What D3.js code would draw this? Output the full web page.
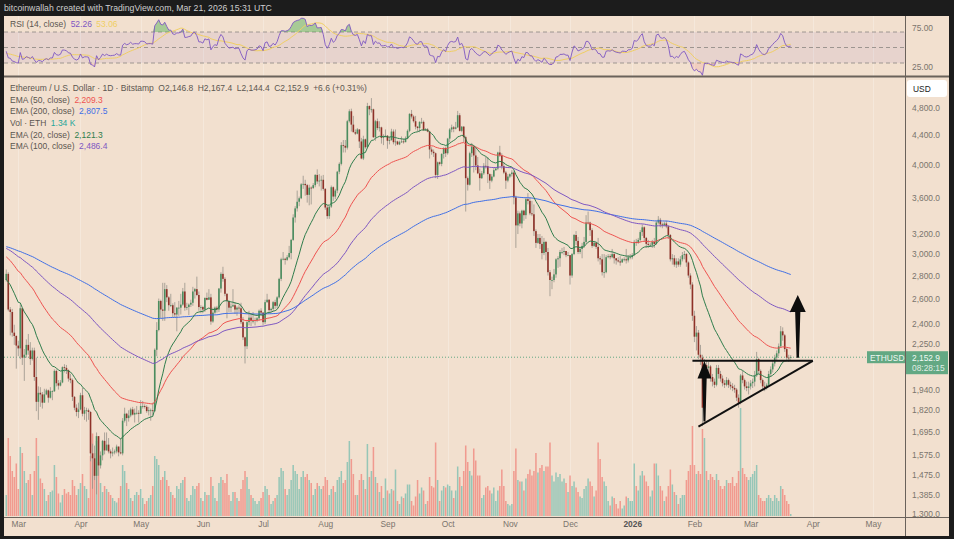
<!DOCTYPE html>
<html>
<head>
<meta charset="utf-8">
<script src="https://cdn.jsdelivr.net/npm/d3@7/dist/d3.min.js"></script>
<style>
html,body{margin:0;padding:0;background:#1c1c1c;overflow:hidden}
svg{display:block}
text{font-family:"Liberation Sans",Arial,sans-serif}
</style>
</head>
<body>
<svg id="chart" width="954" height="539"></svg>
<script>
// ================= DATA =================
const startDate = "2025-02-23";
const firstOpen = 2760;
const closes = [
2815,2510,2490,2330,2305,2235,
2215,2520,2150,2170,2240,2200,2140,2200,2020,1865,1920,1910,1860,1910,1935,1890,1930,1930,2060,1980,1965,1985,2085,2080,2065,2010,2000,1895,1830,1805,1820,
1905,1795,1815,1815,1805,1580,1555,1470,1670,1520,1570,1645,1595,1625,1590,1580,1585,1590,1615,1585,1580,1755,1795,1770,1785,1820,1790,1800,1800,1795,
1840,1840,1835,1810,1815,1815,1810,2205,2350,2580,2510,2500,2680,2610,2545,2545,2480,2470,2525,2525,2550,2660,2525,2530,2550,2565,2660,2680,2630,2530,2530,
2510,2605,2590,2610,2415,2485,2525,2510,2685,2815,2770,2640,2580,2525,2535,2545,2510,2525,2520,2410,2295,2230,2410,2445,2420,2420,2425,2440,2500,2485,
2410,2570,2590,2505,2515,2570,2540,2610,2770,2950,2955,2945,2970,3010,3140,3375,3475,3550,3590,3755,3760,3745,3630,3715,3710,3745,3870,3790,3800,3810,3700,
3485,3390,3495,3720,3610,3680,3910,4010,4260,4250,4225,4600,4750,4550,4440,4420,4480,4310,4080,4340,4230,4830,4780,4780,4370,4600,4500,4510,4360,4370,4390,
4320,4330,4450,4300,4310,4270,4300,4310,4300,4350,4460,4710,4670,4600,4520,4500,4590,4590,4470,4480,4450,4200,4170,4150,3870,4030,4010,4140,4220,4150,
4350,4480,4510,4490,4510,4690,4460,4520,4370,3830,3750,4150,4240,4120,3990,3890,3830,3890,3985,3980,3880,3800,3850,3930,3950,4160,4120,3980,3900,3800,3850,
3880,3900,3600,3290,3420,3310,3450,3400,3580,3560,3420,3410,3230,3110,3160,3100,3010,3120,3020,2830,2760,2760,2810,2950,2960,3020,3020,3030,2990,2990,
2800,3000,3190,3130,3020,3050,3080,3120,3320,3320,3240,3080,3110,3070,2960,2950,2830,2830,2970,2980,2970,3000,2960,2940,2930,2920,2950,2950,2940,2970,2970,
2990,3120,3110,3140,3220,3270,3160,3100,3090,3090,3120,3100,3320,3350,3300,3290,3310,3280,3190,2950,2960,2900,2930,2900,2950,2990,3000,2920,2800,2720,2460,
2300,2330,2170,2150,1830,2100,2080,2090,2020,1990,1970,2080,2040,2010,1980,1970,2000,1970,1960,1950,1940,1890,1860,2030,2000,1960,1950,1960,
1980,1990,2030,2140,2060,2000,1960,1950,1970,2040,2070,2110,2150,2180,2230,2340,2310,2210,2150,2146.8,2152.9
];
const highs = [
2855,2830,2530,2515,2390,2310,
2270,2550,2520,2210,2280,2320,2260,2220,2220,2150,1960,1955,1925,1945,1945,1940,1955,1935,2070,2070,2000,2000,2090,2105,2100,2070,2040,2010,1900,1850,1860,
1920,1950,1835,1830,1825,1810,1630,1620,1690,1670,1590,1650,1690,1690,1660,1600,1610,1600,1625,1615,1660,1770,1830,1800,1815,1830,1835,1825,1840,1815,
1875,1870,1850,1845,1835,1825,1860,2215,2410,2600,2590,2735,2735,2715,2620,2640,2560,2570,2530,2580,2640,2690,2735,2565,2560,2590,2700,2690,2790,2660,2545,
2540,2610,2650,2680,2640,2525,2535,2540,2690,2830,2880,2785,2645,2585,2560,2680,2570,2535,2545,2565,2450,2300,2425,2500,2480,2490,2445,2450,2510,2520,
2490,2590,2640,2595,2525,2580,2590,2620,2780,2965,3020,2965,2990,3080,3150,3410,3500,3680,3610,3770,3860,3810,3760,3750,3730,3770,3880,3940,3880,3860,3870,
3710,3510,3500,3740,3730,3700,3920,4030,4300,4330,4330,4620,4780,4790,4680,4480,4500,4480,4360,4390,4350,4880,4840,4955,4790,4620,4640,4600,4520,4410,4480,
4400,4380,4490,4480,4480,4320,4320,4380,4350,4380,4480,4720,4770,4690,4680,4530,4600,4650,4610,4500,4500,4460,4230,4200,4160,4040,4040,4150,4230,4240,
4360,4500,4550,4530,4590,4755,4720,4530,4530,4390,3850,4170,4290,4250,4220,4100,3950,3920,4020,4100,4100,3890,3880,3960,3960,4170,4250,4150,4030,3920,3880,
3890,3930,3920,3620,3450,3440,3460,3460,3600,3650,3600,3560,3520,3250,3200,3200,3180,3160,3130,3060,2850,2790,2860,2960,2980,3040,3060,3070,3030,3020,
2990,3010,3200,3230,3170,3070,3110,3170,3400,3440,3330,3260,3130,3120,3160,2980,3000,3000,2990,3000,3000,3050,3010,2960,2970,2980,2960,2970,3050,2990,3000,
3010,3140,3150,3160,3240,3300,3280,3170,3140,3110,3140,3160,3340,3390,3370,3320,3330,3340,3290,3200,3000,2990,2960,2960,2980,3020,3030,3010,2930,2820,2740,
2500,2380,2350,2240,2170,2140,2130,2120,2100,2040,2010,2100,2100,2060,2030,2000,2020,2010,1990,1980,1970,1950,1910,2040,2060,2010,1990,1990,
2000,2010,2060,2190,2150,2070,2010,1990,1980,2060,2090,2130,2170,2200,2250,2380,2370,2320,2220,2170,2167.4
];
const lows = [
2745,2495,2310,2300,2240,2075,
2160,2140,2100,1995,2150,2170,2100,2130,1995,1810,1760,1835,1825,1860,1905,1860,1885,1875,1925,1960,1940,1960,1980,2050,2040,1990,1980,1870,1815,1780,1770,
1815,1780,1760,1750,1760,1540,1410,1450,1385,1470,1505,1545,1575,1605,1580,1555,1565,1575,1580,1565,1575,1570,1745,1725,1750,1775,1785,1745,1790,1745,
1795,1825,1825,1800,1785,1755,1785,1805,2160,2340,2440,2420,2420,2570,2500,2530,2450,2450,2340,2460,2470,2540,2500,2505,2465,2530,2540,2600,2620,2500,2480,
2480,2490,2585,2590,2390,2405,2475,2485,2490,2650,2745,2620,2440,2490,2490,2530,2475,2460,2490,2395,2275,2110,2210,2385,2380,2400,2385,2410,2420,2460,
2385,2395,2565,2485,2490,2500,2515,2520,2600,2750,2940,2900,2935,2960,2950,3130,3320,3440,3500,3580,3700,3620,3540,3510,3520,3700,3720,3760,3730,3680,3680,
3460,3360,3360,3480,3560,3580,3650,3880,3990,4160,4160,4200,4580,4450,4440,4400,4410,4220,4070,4060,4210,4220,4690,4730,4360,4320,4470,4450,4280,4260,4370,
4210,4270,4320,4270,4250,4260,4260,4290,4280,4300,4340,4440,4640,4580,4480,4450,4440,4560,4460,4460,4440,4080,4130,4100,3830,3820,3990,3980,4080,4100,
4130,4300,4440,4440,4480,4500,4450,4440,4300,3440,3680,3740,4100,3900,3930,3880,3680,3820,3870,3950,3770,3700,3780,3840,3920,3930,4100,3940,3880,3700,3780,
3830,3850,3520,3060,3200,3280,3260,3340,3360,3520,3400,3390,3180,3060,3100,3050,2950,2990,2940,2800,2620,2680,2740,2780,2870,2880,3000,2990,2970,2980,
2720,2780,2990,3090,3000,3000,2960,3060,3100,3300,3180,3060,3070,3050,2930,2900,2800,2780,2820,2960,2950,2960,2910,2900,2920,2890,2920,2930,2910,2920,2950,
2950,2980,3080,3100,3120,3180,3120,3060,3060,3070,3060,3060,3090,3300,3270,3260,3280,3260,3150,2930,2900,2880,2870,2880,2880,2930,2950,2880,2780,2680,2420,
2260,2200,2140,2100,1725,1810,2020,2050,1990,1960,1950,1960,2010,1990,1960,1950,1960,1950,1940,1930,1920,1870,1830,1850,1980,1940,1930,1910,
1940,1950,1960,2020,2040,1980,1940,1930,1940,1960,2020,2050,2090,2130,2160,2220,2270,2190,2130,2120,2144.4
];
// daily volume, thousand ETH
const volumes = [
14,52,40,30,26,35,
18,46,42,30,22,24,28,14,30,52,40,25,22,18,10,14,16,17,34,26,15,9,14,18,15,16,14,24,20,14,18,
22,28,20,18,12,40,55,42,50,36,22,16,20,18,16,14,12,10,9,12,20,34,30,22,18,12,10,14,16,14,
18,12,8,10,12,14,20,40,38,34,24,26,30,24,20,16,14,12,20,18,22,24,26,12,10,14,20,18,20,22,12,
10,16,14,14,26,20,12,10,22,26,24,22,28,14,10,16,16,12,10,18,24,30,26,18,14,12,10,8,10,12,
16,20,18,14,8,10,12,14,26,32,30,18,14,18,24,34,30,28,18,26,30,26,28,24,22,14,18,22,20,18,20,
26,24,14,18,20,16,24,26,30,22,24,36,50,38,28,14,14,24,28,24,18,48,26,30,46,26,22,16,20,12,25,
17,15,18,17,31,10,8,13,12,15,21,21,10,7,13,24,15,19,17,8,10,26,20,19,49,24,10,17,20,19,
21,20,17,12,17,33,26,20,30,47,36,30,27,45,37,27,27,12,14,19,20,17,15,19,10,17,20,31,20,10,8,
7,8,30,45,24,23,23,17,25,28,31,27,30,42,29,32,34,30,33,33,49,27,23,29,26,28,23,25,22,16,
27,20,23,19,16,13,12,18,20,25,23,20,13,17,49,38,26,23,20,10,7,13,12,8,5,10,5,7,13,12,10,
10,35,20,17,27,30,27,23,20,13,17,35,35,27,20,17,10,13,20,31,21,16,14,8,12,14,14,24,30,34,60,
34,28,30,28,58,52,30,24,28,26,24,28,24,20,18,20,24,22,22,26,20,22,30,72,32,28,26,24,
26,28,30,34,14,12,10,10,12,14,12,10,14,12,10,20,18,14,10,8,1.34
];
const monthTicks = ["2025-03-01","2025-04-01","2025-05-01","2025-06-01","2025-07-01","2025-08-01","2025-09-01","2025-10-01","2025-11-01","2025-12-01","2026-01-01","2026-02-01","2026-03-01","2026-04-01","2026-05-01"];
const monthLabels = ["Mar","Apr","May","Jun","Jul","Aug","Sep","Oct","Nov","Dec","2026","Feb","Mar","Apr","May"];
const priceTicks = [4800,4400,4000,3600,3200,3000,2800,2600,2400,2250,1940,1820,1695,1575,1475,1385,1300];
const rsiTicks = [75,25];
const rsiLevels = [70,50,30];
const emaPeriods = [50,200,20,100];
const emaSeeds = [2980,3075,2760,3060];
const rsiSeed = {gain:45, loss:60, value:42};
const lastPrice = 2152.9;
const lastTimer = "08:28:15";
const headerText = "bitcoinwallah created with TradingView.com, Mar 21, 2026 15:31 UTC";
const symbolText = "Ethereum / U.S. Dollar · 1D · Bitstamp";
const ohlcText = ["O2,146.8","H2,167.4","L2,144.4","C2,152.9","+6.6 (+0.31%)"];
const legendRows = [["EMA (50, close)","2,209.3"],["EMA (200, close)","2,807.5"],["Vol · ETH","1.34 K"],["EMA (20, close)","2,121.3"],["EMA (100, close)","2,486.4"]];
const rsiLegend = ["RSI (14, close)","52.26","53.06"];
// chart drawings (time / price anchors)
const trendLines = [
  {t0:"2026-01-31",p0:2128,t1:"2026-04-01",p1:2128},
  {t0:"2026-02-03",p0:1722,t1:"2026-04-01",p1:2128}
];
const arrowMarks = [
  {t:"2026-02-06",base:1750,neck:2010,tip:2125},
  {t:"2026-03-24T12:00:00Z",base:2150,neck:2490,tip:2630}
];

// ================= STYLE =================
const C = {
  frame:"#1c1c1c", bg:"#f2e0cf", text:"#5b5650", axisText:"#7a746d", sep:"#6a625b",
  grid:"rgba(255,255,255,0.25)",
  up:"#4b8d5f", down:"#8e3128", wick:"#98938a",
  volUp:"rgba(38,166,154,0.45)", volDown:"rgba(239,83,80,0.5)",
  ema:{50:"#ef5350",200:"#3f6fe6",20:"#2f7d4c",100:"#7e57c2"},
  legendVal:["#ef5350","#3f6fe6","#26a69a","#2f7d4c","#7e57c2"],
  rsi:"#7e57c2", rsiMA:"#f0cf63", band:"rgba(126,87,194,0.09)",
  last:"#63a883"
};
const PL=4, PR=905, RT=16, RB=76, MT=77, MB=517, AR=949, BOT=536;

// ================= COMPUTE =================
const t0 = new Date(startDate+"T00:00:00Z");
const dates = closes.map((c,i)=>d3.utcDay.offset(t0,i));
const opens = closes.map((c,i)=> i===0 ? firstOpen : closes[i-1]);
const bars = closes.map((c,i)=>({
  d:dates[i], o:opens[i], c:c,
  h:Math.max(highs[i],opens[i],c), l:Math.min(lows[i],opens[i],c), v:volumes[i]
}));
function ema(period, seed){ const a=2/(period+1); let e=seed; return closes.map(c=>(e=a*c+(1-a)*e)); }
const emas = emaPeriods.map((p,k)=>({p, vals:ema(p,emaSeeds[k])}));
let ag=rsiSeed.gain, al=rsiSeed.loss;
const rsi = closes.map((c,i)=>{
  const ch = c-opens[i];
  ag=(ag*13+Math.max(ch,0))/14; al=(al*13+Math.max(-ch,0))/14;
  return 100-100/(1+ag/al);
});
const rsiMA = rsi.map((r,i)=>{ const w=[]; for(let k=i-13;k<=i;k++) w.push(k<0?rsiSeed.value:rsi[k]); return d3.mean(w); });

// ================= SCALES =================
const x = d3.scaleUtc().domain([new Date("2025-03-01T00:00:00Z"), new Date("2026-05-01T00:00:00Z")]).range([18.3,873]);
const y = d3.scaleLog().domain([1300,4800]).range([514,108]);
const yR = d3.scaleLinear().domain([30,70]).range([63,32]);
const yV = d3.scaleLinear().domain([0,60]).range([MB-1, MB-91]);
const pd = s => new Date(s.length>10 ? s : s+"T00:00:00Z");

// ================= DRAW =================
const svg = d3.select("#chart");
svg.append("rect").attr("width",954).attr("height",539).attr("fill",C.frame);
svg.append("rect").attr("x",PL).attr("y",RT).attr("width",AR-PL).attr("height",BOT-RT).attr("fill",C.bg);

const defs = svg.append("defs");
defs.append("clipPath").attr("id","clipMain").append("rect").attr("x",PL).attr("y",MT).attr("width",PR-PL).attr("height",MB-MT);
defs.append("clipPath").attr("id","clipRsi").append("rect").attr("x",PL).attr("y",RT).attr("width",PR-PL).attr("height",RB-RT);

function fit(str, target, weight){
  const t=svg.append("text").attr("font-size",10).attr("font-weight",weight||400).text(str);
  const w=t.node().getComputedTextLength(); t.remove(); return 10*target/w;
}

// header
svg.append("text").attr("x",4).attr("y",11).attr("fill","#cfcfcf")
  .attr("font-size",fit(headerText,268)).text(headerText);

// grid
const gridG = svg.append("g");
monthTicks.forEach(s=>{
  const gx = Math.round(x(pd(s)))+0.5;
  gridG.append("line").attr("x1",gx).attr("x2",gx).attr("y1",RT).attr("y2",RB).attr("stroke",C.grid);
  gridG.append("line").attr("x1",gx).attr("x2",gx).attr("y1",MT+1).attr("y2",MB).attr("stroke",C.grid);
});

// ---------- RSI pane ----------
const rsiG = svg.append("g").attr("clip-path","url(#clipRsi)");
rsiG.append("rect").attr("x",PL).attr("width",PR-PL).attr("y",yR(70)).attr("height",yR(30)-yR(70)).attr("fill",C.band);
rsiLevels.forEach(l=>{
  rsiG.append("line").attr("x1",PL).attr("x2",PR).attr("y1",yR(l)).attr("y2",yR(l))
    .attr("stroke","#8a8580").attr("stroke-dasharray","4,3").attr("stroke-width",0.8);
});
const xi = (d,i)=>x(dates[i]);
rsiG.append("path").datum(rsi).attr("fill","rgba(76,175,80,0.45)")
  .attr("d",d3.area().x(xi).y0(yR(70)).y1(d=>yR(Math.max(d,70))));
rsiG.append("path").datum(rsi).attr("fill","rgba(239,83,80,0.12)")
  .attr("d",d3.area().x(xi).y0(yR(30)).y1(d=>yR(Math.min(d,30))));
rsiG.append("path").datum(rsiMA).attr("fill","none").attr("stroke",C.rsiMA).attr("stroke-width",1)
  .attr("d",d3.line().x(xi).y(d=>yR(d)));
rsiG.append("path").datum(rsi).attr("fill","none").attr("stroke",C.rsi).attr("stroke-width",0.9)
  .attr("d",d3.line().x(xi).y(d=>yR(d)));

// ---------- Main pane ----------
const mainG = svg.append("g").attr("clip-path","url(#clipMain)");
// volume
mainG.append("g").selectAll("rect").data(bars).join("rect")
  .attr("x",d=>x(d.d)-0.75).attr("width",1.5)
  .attr("y",d=>yV(d.v)).attr("height",d=>yV(0)-yV(d.v))
  .attr("fill",d=>d.c>=d.o?C.volUp:C.volDown);
// price line
const yl = y(lastPrice);
mainG.append("line").attr("x1",PL).attr("x2",PR).attr("y1",yl).attr("y2",yl)
  .attr("stroke",C.last).attr("stroke-dasharray","1,2").attr("stroke-width",1);
// candles
const cg = mainG.append("g");
cg.selectAll("line").data(bars).join("line")
  .attr("x1",d=>x(d.d)).attr("x2",d=>x(d.d)).attr("y1",d=>y(d.h)).attr("y2",d=>y(d.l))
  .attr("stroke",C.wick).attr("stroke-width",0.8);
cg.selectAll("rect").data(bars).join("rect")
  .attr("x",d=>x(d.d)-0.8).attr("width",1.6)
  .attr("y",d=>y(Math.max(d.o,d.c)))
  .attr("height",d=>Math.max(0.8, y(Math.min(d.o,d.c))-y(Math.max(d.o,d.c))))
  .attr("fill",d=>d.c>=d.o?C.up:C.down);
// EMAs
emas.forEach(e=>{
  mainG.append("path").datum(e.vals).attr("fill","none").attr("stroke",C.ema[e.p]).attr("stroke-width",1)
    .attr("d",d3.line().x(xi).y(d=>y(d)));
});
// drawings
trendLines.forEach(t=>{
  mainG.append("line").attr("x1",x(pd(t.t0))).attr("y1",y(t.p0)).attr("x2",x(pd(t.t1))).attr("y2",y(t.p1))
    .attr("stroke","#111").attr("stroke-width",2);
});
const arrowSizes=[{head:7,shaft:2.2,tail:1},{head:8,shaft:2.6,tail:1.2}];
arrowMarks.forEach((a,k)=>{
  const ax=x(pd(a.t)), s=arrowSizes[k];
  const pts=[[ax-s.tail,y(a.base)],[ax-s.shaft,y(a.neck)],[ax-s.head,y(a.neck)],[ax,y(a.tip)],
             [ax+s.head,y(a.neck)],[ax+s.shaft,y(a.neck)],[ax+s.tail,y(a.base)]];
  mainG.append("path").attr("d","M"+pts.map(p=>p.join(",")).join("L")+"Z").attr("fill","#0d0d0d");
});

// ---------- separators ----------
svg.append("line").attr("x1",PL).attr("x2",AR).attr("y1",76.5).attr("y2",76.5).attr("stroke",C.sep).attr("stroke-width",2);
svg.append("line").attr("x1",PL).attr("x2",AR).attr("y1",MB+0.5).attr("y2",MB+0.5).attr("stroke",C.sep).attr("stroke-width",1);
svg.append("line").attr("x1",PR+0.5).attr("x2",PR+0.5).attr("y1",RT).attr("y2",BOT).attr("stroke",C.sep).attr("stroke-width",1);

// ---------- axes ----------
const axFs = fit("4,800.0",28);
const pAx = svg.append("g").attr("transform",`translate(${PR},0)`)
  .call(d3.axisRight(y).tickValues(priceTicks).tickFormat(d3.format(",.1f")).tickSize(0).tickPadding(7));
pAx.select(".domain").remove();
pAx.selectAll("text").attr("fill",C.axisText).attr("font-size",axFs).attr("font-family","Liberation Sans, Arial, sans-serif");

const rAx = svg.append("g").attr("transform",`translate(${PR},0)`)
  .call(d3.axisRight(yR).tickValues(rsiTicks).tickFormat(d3.format(".2f")).tickSize(0).tickPadding(7));
rAx.select(".domain").remove();
rAx.selectAll("text").attr("fill",C.axisText).attr("font-size",axFs).attr("font-family","Liberation Sans, Arial, sans-serif");

const tAx = svg.append("g").attr("transform",`translate(0,${MB})`)
  .call(d3.axisBottom(x).tickValues(monthTicks.map(pd)).tickFormat((d,i)=>monthLabels[i]).tickSize(0).tickPadding(4));
tAx.select(".domain").remove();
tAx.selectAll("text").attr("font-size",axFs).attr("font-family","Liberation Sans, Arial, sans-serif")
  .attr("font-weight",(d,i)=>monthLabels[i]==="2026"?700:400)
  .attr("fill",(d,i)=>monthLabels[i]==="2026"?"#555":C.axisText);

// USD box
svg.append("rect").attr("x",907).attr("y",80).attr("width",40).attr("height",17).attr("rx",3).attr("fill","#ffffff");
svg.append("text").attr("x",913).attr("y",91.5).attr("font-size",axFs).attr("fill","#222").text("USD");

// last price labels
svg.append("rect").attr("x",867).attr("y",yl-6).attr("width",PR-867).attr("height",12).attr("fill",C.last);
svg.append("text").attr("x",870).attr("y",yl+3.3).attr("font-size",axFs).attr("fill","#eef7f1").text("ETHUSD");
svg.append("rect").attr("x",PR+1).attr("y",yl-6).attr("width",42).attr("height",23).attr("fill",C.last);
svg.append("text").attr("x",912).attr("y",yl+3.3).attr("font-size",axFs).attr("fill","#f2faf5").text(d3.format(",.1f")(lastPrice));
svg.append("text").attr("x",912).attr("y",yl+13.5).attr("font-size",axFs).attr("fill","rgba(255,255,255,0.8)").text(lastTimer);

// ---------- legends ----------
const lfs = fit(symbolText,144);
function row(yy, parts){
  const t = svg.append("text").attr("x",10).attr("y",yy).attr("font-size",lfs);
  parts.forEach((p,i)=>{ t.append("tspan").attr("dx",i?4.5:0).attr("fill",p[1]).text(p[0]); });
}
row(27, [[rsiLegend[0],C.text],[rsiLegend[1],C.rsi],[rsiLegend[2],C.rsiMA]]);
row(91, [[symbolText,C.text]].concat(ohlcText.map(s=>[s,C.text])));
legendRows.forEach((r,i)=> row(102.5+i*11.7, [[r[0],C.text],[r[1],C.legendVal[i]]]));
</script>
</body>
</html>
